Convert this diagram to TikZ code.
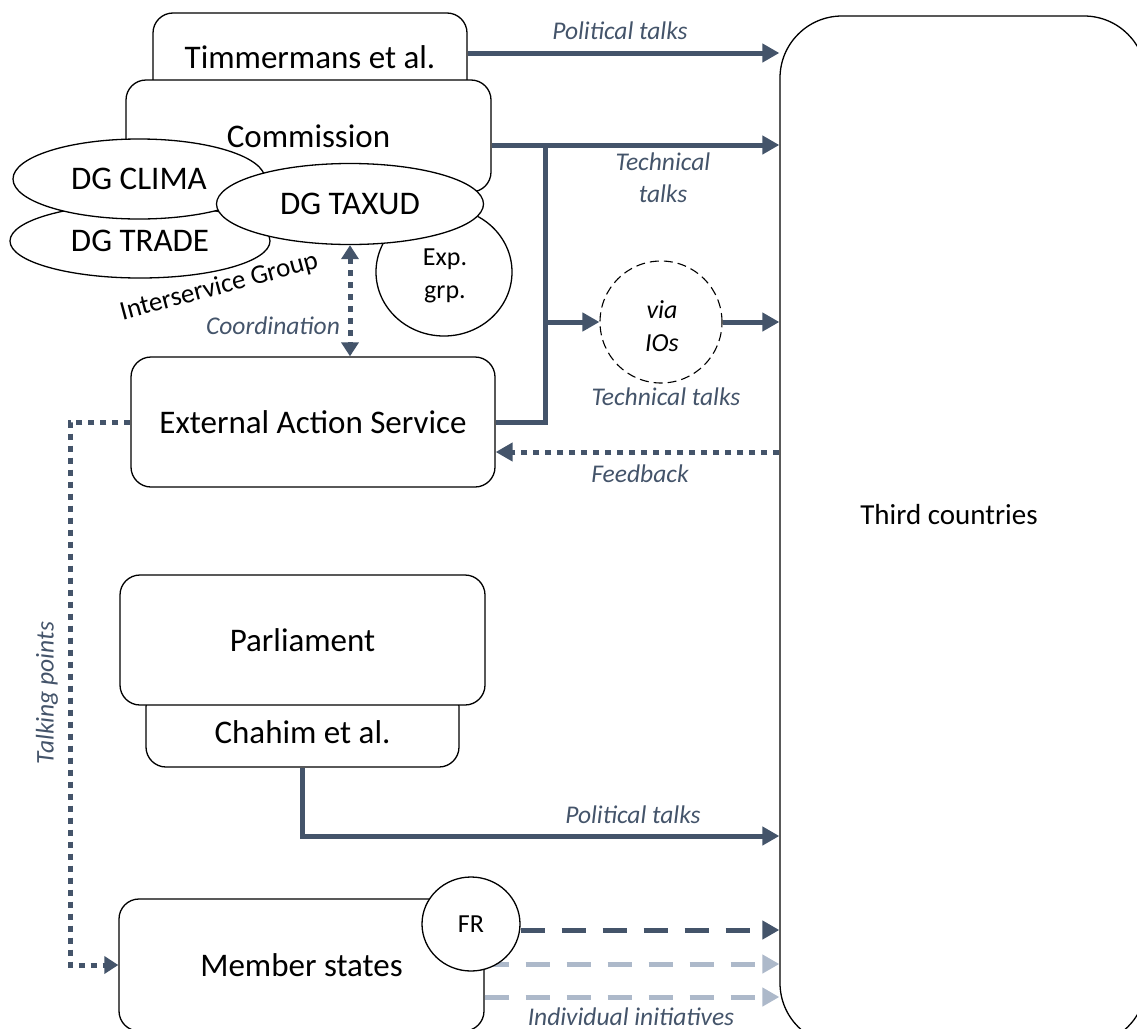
\documentclass[tikz,border=0pt]{standalone}
\usepackage{fontspec}
\setmainfont{Carlito}
\usetikzlibrary{arrows.meta,shapes.geometric,calc}
\definecolor{dk}{HTML}{44546A}
\definecolor{lt}{HTML}{ADB9CA}
\newcommand\fbig{\fontsize{33}{38}\selectfont}
\newcommand\fmid{\fontsize{29}{32}\selectfont}
\newcommand\fsm{\fontsize{26}{33}\selectfont}
\newcommand\flab{\fontsize{25.5}{32}\selectfont\itshape}
\begin{document}
\begin{tikzpicture}[x=1pt,y=-1pt,
  box/.style={draw, rounded corners=20pt, fill=white, line width=1.3pt, inner sep=0pt, font=\fbig},
  ell/.style={draw, ellipse, fill=white, line width=1.3pt, inner sep=0pt, font=\fbig},
  thk/.style={draw=dk, line width=5pt},
  tip/.style={-{Triangle[length=17pt,width=18pt]}},
  dots/.style={draw=dk, line width=5pt, dash pattern=on 6pt off 6pt},
  dashd/.style={line width=5pt, dash pattern=on 24pt off 17pt},
  lab/.style={font=\flab, text=dk, inner sep=0pt}]
\useasboundingbox (0,0) rectangle (1137,1028);
\clip (0,0) rectangle (1137,1028);
% Third countries
\node[draw, line width=1.3pt, rounded corners=62pt, minimum width=366pt, minimum height=1029pt, inner sep=0pt] (tc) at (963,530.5) {};
\node[font=\fmid] (tct) at (949,515) {Third countries};
% Commission cluster
\node[box, minimum width=314pt, minimum height=88pt] (tim) at (310,57) {Timmermans et al.};
\node[box, minimum width=365pt, minimum height=112pt] (com) at (308.5,136) {Commission};
\node[ell, minimum width=260pt, minimum height=74pt] (trade) at (140,241) {DG TRADE};
\node[ell, minimum width=252pt, minimum height=80pt] (clima) at (139,179) {DG CLIMA};
\node[ell, minimum width=136pt, minimum height=128pt] (exp) at (444,272) {};
\node[font=\fsm, align=center] (expt) at (445,276) {Exp.\\grp.};
\node[ell, minimum width=267pt, minimum height=81pt] (taxud) at (350,204) {DG TAXUD};
\node[font=\fontsize{27}{30}\selectfont, rotate=15, anchor=base] (isg) at (221,294) {Interservice Group};
% other boxes
\node[box, minimum width=364pt, minimum height=130pt] (eas) at (313,422) {External Action Service};
\node[box, minimum width=313pt, minimum height=80pt] (ch) at (302.5,727) {};
\node[font=\fbig] (cht) at (302.5,732) {Chahim et al.};
\node[box, minimum width=365pt, minimum height=130pt] (par) at (302.5,640) {Parliament};
\node[box, minimum width=365pt, minimum height=132pt] (ms) at (301.5,965) {Member states};
% top arrows
\coordinate (p1) at (tim.east |- 0,53);
\draw[thk, tip, dk] (p1) -- (tc.west |- p1);
\node[lab] (l1) at (620,31) {Political talks};
\coordinate (p2) at (com.east |- 0,145);
\coordinate (j1) at (545,145);
\coordinate (j2) at (545,322);
\draw[thk, tip, dk] (p2) -- (tc.west |- p2);
\draw[thk, line join=miter] (j1) |- (eas.east);
\node[lab, align=center] (l2) at (663,178) {Technical\\talks};
% via IOs
\node[draw, circle, line width=1.1pt, dash pattern=on 9pt off 5pt, minimum size=122pt, inner sep=0pt, fill=white] (ios) at (661,322) {};
\node[font=\fsm\itshape, align=center] (iost) at (662,326) {via\\IOs};
\draw[thk, tip, dk] (j2) -- (ios.west);
\draw[thk, tip, dk] (ios.east) -- (tc.west |- ios.east);
\node[lab] (l3) at (666,397) {Technical talks};
% feedback
\coordinate (fb) at (tc.west |- 0,452);
\draw[dots, tip, dk] (fb) -- (eas.east |- fb);
\node[lab] (l4) at (640,474) {Feedback};
% coordination
\draw[dots, {Triangle[length=14pt,width=17pt]}-{Triangle[length=14pt,width=17pt]}, dk] (taxud.south) -- (taxud.south |- eas.north);
\node[lab] (l5) at (273,326) {Coordination};
% talking points
\coordinate (tp) at (70,700);
\draw[dots, -{Triangle[length=14pt,width=17pt]}, dk] (eas.west) -| (tp) |- (ms.west);
\node[lab, rotate=90] (l6) at (47,693) {Talking points};
% Parliament arrow
\coordinate (pc) at (tc.west |- 0,836);
\draw[thk, tip, dk, line join=miter] (ch.south) |- (pc);
\node[lab] (l7) at (633,815) {Political talks};
% member states arrows
\coordinate (m2) at (ms.east |- 0,964);
\coordinate (m3) at (ms.east |- 0,997);
\draw[dashd, tip, draw=lt, lt] (m2) -- (tc.west |- m2);
\draw[dashd, tip, draw=lt, lt] (m3) -- (tc.west |- m3);
\node[ell, minimum width=98pt, minimum height=94pt, font=\fsm] (fr) at (471,924) {FR};
\coordinate (m1) at (fr.east |- 0,930);
\draw[dashd, tip, draw=dk, dk] (m1) -- (tc.west |- m1);
\node[lab] (l8) at (631,1017) {Individual initiatives};
\end{tikzpicture}
\end{document}
